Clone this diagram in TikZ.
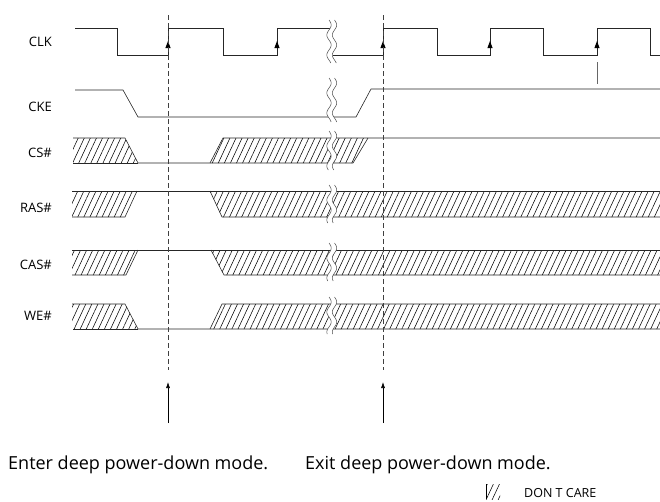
\documentclass[tikz,border=0pt]{standalone}
\usepackage{fontspec}
\setmainfont{Open Sans}
\usetikzlibrary{arrows.meta,patterns.meta}

\begin{document}
\begin{tikzpicture}[x=1pt,y=-1pt,
  sig/.style={line width=0.6pt,black!85},
  dc/.style={pattern={Lines[angle=65,distance=5.5pt,line width=0.55pt]}},
  lbl/.style={font=\fontsize{13}{15}\selectfont,anchor=east,inner sep=0pt},
  note/.style={font=\fontsize{18}{21}\selectfont,anchor=west,inner sep=0pt},
  guide/.style={line width=0.6pt,black!75,dash pattern=on 5pt off 3pt}]

\useasboundingbox (0,0) rectangle (660,501);

% Rising clock edge marker
\def\up#1{\fill[black] (#1,41) -- (#1-2.6,48) -- (#1+2.6,48) -- cycle;}

% Wavy break across one row
\def\brk#1#2{%
  \fill[white] plot[domain=#1:#2,samples=30,smooth] ({329+2.2*sin(18*(\x-#1))},\x)
    -- plot[domain=#2:#1,samples=30,smooth] ({334.5+2.2*sin(18*(\x-#1))},\x) -- cycle;
  \draw[line width=0.5pt,black!70] plot[domain=#1:#2,samples=30,smooth] ({329+2.2*sin(18*(\x-#1))},\x);
  \draw[line width=0.5pt,black!70] plot[domain=#1:#2,samples=30,smooth] ({334.5+2.2*sin(18*(\x-#1))},\x);
}

% Signal names
\node[lbl] (clk) at (52,42) {CLK};
\node[lbl] (cke) at (52,107) {CKE};
\node[lbl] (cs) at (52,153) {CS\#};
\node[lbl] (ras) at (52,208) {RAS\#};
\node[lbl] (cas) at (52,265) {CAS\#};
\node[lbl] (we) at (52,316) {WE\#};

% Don't care areas
\fill[dc] (73,138) -- (125,138) -- (138,163) -- (73,163) -- cycle;
\fill[dc] (210,163) -- (223,138) -- (368,138) -- (353,163) -- cycle;
\fill[dc] (72,191) -- (137,191) -- (125,217) -- (72,217) -- cycle;
\fill[dc] (210,191) -- (222,217) -- (660,217) -- (660,191) -- cycle;
\fill[dc] (72,250) -- (138,250) -- (126,275) -- (72,275) -- cycle;
\fill[dc] (211,250) -- (224,275) -- (660,275) -- (660,250) -- cycle;
\fill[dc] (72,304) -- (125,304) -- (138,329) -- (72,329) -- cycle;
\fill[dc] (210,329) -- (222,304) -- (660,304) -- (660,329) -- cycle;

% CLK
\draw[sig] (75,28) -| (117,55) -| (168,28) -| (223,55) -| (277,28) -- (330,28);
\draw[sig] (333,55) -| (383,28) -| (437,55) -| (490,28) -| (543,55) -| (597,28) -| (650,55) -- (660,55);
\foreach \t in {168,277,383,490,597}
{
  \up{\t}
}
\draw[line width=0.5pt,black!60] (597,62) -- (597,84);

% CKE
\draw[sig] (75,90) -- (123,90) -- (138,117) -- (356,117) -- (371,89) -- (660,89);

% CS#
\draw[sig] (73,138) -- (125,138) -- (138,163) -- (210,163) -- (223,138) -- (660,138);
\draw[sig] (73,163) -- (138,163);
\draw[sig] (210,163) -- (353,163) -- (368,138);

% RAS#
\draw[sig] (72,191) -- (660,191);
\draw[sig] (72,217) -- (125,217) -- (137,191);
\draw[sig] (210,191) -- (222,217) -- (660,217);

% CAS#
\draw[sig] (72,250) -- (660,250);
\draw[sig] (72,275) -- (126,275) -- (138,250);
\draw[sig] (211,250) -- (224,275) -- (660,275);

% WE#
\draw[sig] (72,304) -- (125,304) -- (138,329) -- (660,329);
\draw[sig] (73,329) -- (138,329);
\draw[sig] (210,329) -- (222,304) -- (660,304);

% Breaks
\foreach \ya/\yb in {20/63, 78/122, 131/170, 185/223, 243/281, 297/334}
{
  \brk{\ya}{\yb}
}

% Enter and exit markers
\coordinate (entertop) at (168,15);
\coordinate (enterend) at (168,370);
\coordinate (exittop) at (383,15);
\coordinate (exitend) at (383,370);
\draw[guide] (entertop) -- (enterend);
\draw[guide] (exittop) -- (exitend);

\node[note] (enter) at (8,465) {Enter deep power-down mode.};
\node[note] (exit) at (305,465) {Exit deep power-down mode.};
\coordinate (enterfoot) at (168,423);
\coordinate (entertip) at (168,382);
\coordinate (exitfoot) at (383,423);
\coordinate (exittip) at (383,382);
\draw[line width=0.6pt,-{Latex[length=6pt,width=4pt]}] (enterfoot) -- (entertip);
\draw[line width=0.6pt,-{Latex[length=6pt,width=4pt]}] (exitfoot) -- (exittip);

% Legend
\fill[dc] (486,484) rectangle (500,499);
\draw[line width=0.5pt] (486,484) -- (486,499);
\node[font=\fontsize{12.5}{14}\selectfont,anchor=base west,inner sep=0pt] (dontcare) at (524,497) {DON T CARE};

\end{tikzpicture}
\end{document}
